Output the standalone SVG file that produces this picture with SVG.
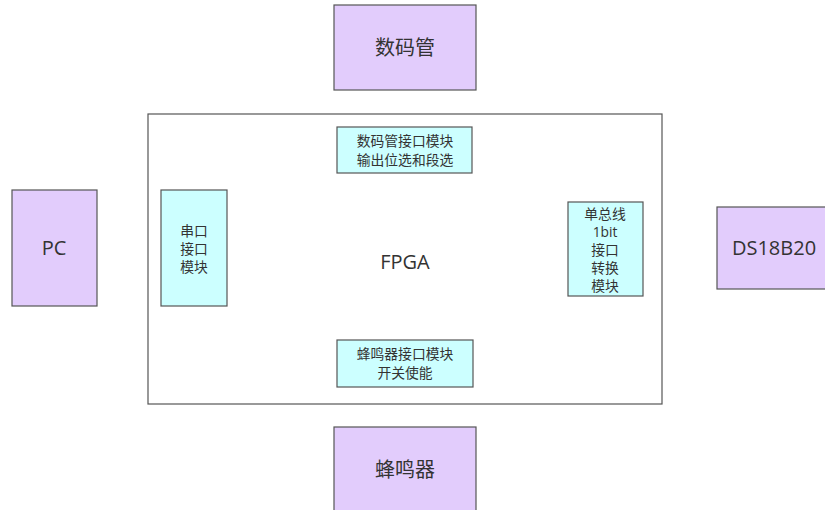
<svg xmlns="http://www.w3.org/2000/svg" width="825" height="510" viewBox="0 0 825 510">
<style>
.ext{fill:#e2ccfc;stroke:#555;stroke-width:1.2}
.mod{fill:#ccffff;stroke:#555;stroke-width:1.2}
.frame{fill:#fff;stroke:#555;stroke-width:1.2}
text{font-family:"Open Sans","Noto Sans CJK SC",sans-serif;fill:#333;text-anchor:middle}
.big{font-size:20px}
.sm{font-size:13.8px}
</style>
<rect width="825" height="510" fill="#fff"/>
<g id="fpga">
<rect class="frame" x="148" y="114" width="514" height="290"/>
<text class="big" x="405" y="269">FPGA</text>
</g>
<g id="segdisplay">
<rect class="ext" x="334" y="5" width="142" height="85"/>
<text class="big" x="405" y="55">数码管</text>
</g>
<g id="pc">
<rect class="ext" x="12" y="190" width="85" height="116"/>
<text class="big" x="54" y="255">PC</text>
</g>
<g id="ds18b20">
<rect class="ext" x="717" y="207" width="112" height="82"/>
<text class="big" x="774" y="255">DS18B20</text>
</g>
<g id="buzzer">
<rect class="ext" x="334" y="427" width="142" height="90"/>
<text class="big" x="405" y="477">蜂鸣器</text>
</g>
<g id="segmod">
<rect class="mod" x="337" y="127" width="135" height="46"/>
<text class="sm" x="405" y="146">数码管接口模块</text>
<text class="sm" x="405" y="165">输出位选和段选</text>
</g>
<g id="uartmod">
<rect class="mod" x="161" y="190" width="66" height="116"/>
<text class="sm" x="194" y="236">串口</text>
<text class="sm" x="194" y="254">接口</text>
<text class="sm" x="194" y="272">模块</text>
</g>
<g id="onewiremod">
<rect class="mod" x="568" y="202" width="75" height="94"/>
<text class="sm" x="605" y="219">单总线</text>
<text class="sm" x="605" y="237">1bit</text>
<text class="sm" x="605" y="255">接口</text>
<text class="sm" x="605" y="273">转换</text>
<text class="sm" x="605" y="291">模块</text>
</g>
<g id="buzzmod">
<rect class="mod" x="337" y="340" width="136" height="47"/>
<text class="sm" x="405" y="359">蜂鸣器接口模块</text>
<text class="sm" x="405" y="378">开关使能</text>
</g>
<g id="connectors"></g>
</svg>
